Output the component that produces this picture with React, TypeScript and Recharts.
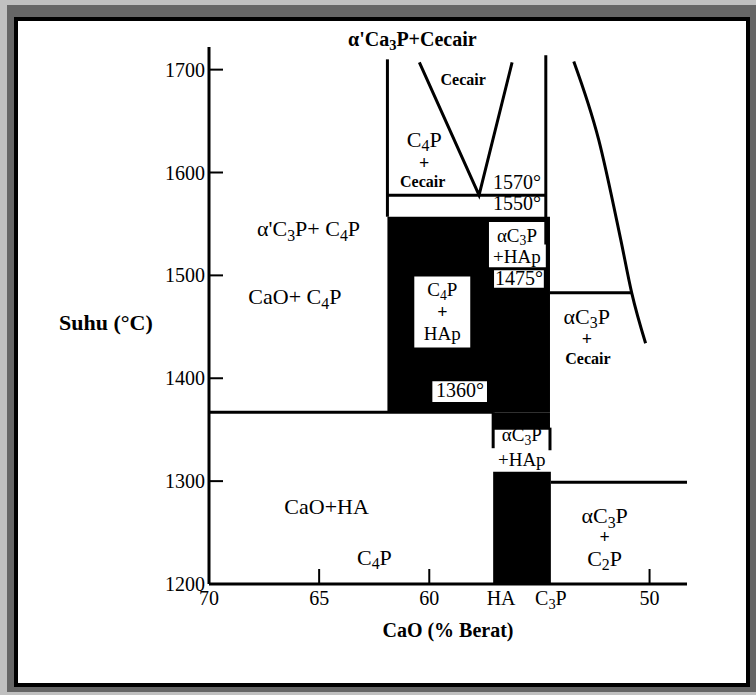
import { ComposedChart, Line, XAxis, YAxis, ReferenceArea, ReferenceDot } from "recharts";

const FONT = "'Liberation Serif', 'Times New Roman', serif";

// x = CaO (% berat), y = suhu (°C)
const leftWall = [{ x: 61.9, y: 1710 }, { x: 61.9, y: 1557 }];
const rightWall = [{ x: 54.71, y: 1714 }, { x: 54.71, y: 1530 }];
const liquidus = [{ x: 60.45, y: 1707 }, { x: 57.74, y: 1578 }, { x: 56.24, y: 1707 }];
const line1570 = [{ x: 61.9, y: 1578 }, { x: 54.71, y: 1578 }];
const c3pCurve = [
  { x: 53.44, y: 1708 },
  { x: 52.31, y: 1632 },
  { x: 51.31, y: 1535 },
  { x: 50.81, y: 1483 },
  { x: 50.18, y: 1434 },
];
const line1475 = [{ x: 54.52, y: 1483 }, { x: 50.81, y: 1483 }];
const line1360 = [{ x: 70, y: 1367 }, { x: 57.1, y: 1367 }];
const line1300 = [{ x: 54.48, y: 1299 }, { x: 48.3, y: 1299 }];
const haEdge = [{ x: 57.1, y: 1367 }, { x: 57.1, y: 1332 }];
const c3pEdge = [{ x: 54.52, y: 1352 }, { x: 54.52, y: 1330 }];

const straightLines = [leftWall, rightWall, liquidus, line1570, line1475, line1360, line1300, haEdge, c3pEdge];

// two-phase region C4P + HAp (black) and the white label boxes inside it
const blackBlocks = [
  { x1: 61.9, x2: 54.52, y1: 1367, y2: 1557 },
  { x1: 57.1, x2: 54.52, y1: 1350, y2: 1367 },
  { x1: 57.1, x2: 54.48, y1: 1200, y2: 1309 },
];
const whiteBoxes = [
  { x1: 57.29, x2: 54.71, y1: 1508, y2: 1552 },
  { x1: 57.06, x2: 54.8, y1: 1488, y2: 1505 },
  { x1: 60.68, x2: 58.14, y1: 1430, y2: 1499 },
  { x1: 59.86, x2: 57.38, y1: 1377, y2: 1397 },
];

const labels = [
  { text: "α'Ca_3P+Cecair", x: 60.77, y: 1729, kind: "title" },
  { text: "Cecair", x: 58.46, y: 1690, kind: "small" },
  { text: "C_4P", x: 60.23, y: 1632, kind: "region" },
  { text: "+", x: 60.23, y: 1609, kind: "plus" },
  { text: "Cecair", x: 60.3, y: 1591, kind: "small" },
  { text: "1570°", x: 56.02, y: 1590, kind: "temp" },
  { text: "1550°", x: 56.02, y: 1570, kind: "temp" },
  { text: "αC_3P", x: 56.02, y: 1539, kind: "boxed" },
  { text: "+HAp", x: 56.02, y: 1518, kind: "boxed" },
  { text: "1475°", x: 55.93, y: 1497, kind: "temp" },
  { text: "C_4P", x: 59.41, y: 1486, kind: "boxed" },
  { text: "+", x: 59.41, y: 1464, kind: "plus" },
  { text: "HAp", x: 59.41, y: 1443, kind: "boxed" },
  { text: "1360°", x: 58.6, y: 1388, kind: "temp" },
  { text: "αC_3P", x: 55.8, y: 1345, kind: "boxed" },
  { text: "+HAp", x: 55.8, y: 1321, kind: "boxed" },
  { text: "α'C_3P+ C_4P", x: 65.48, y: 1545, kind: "region" },
  { text: "CaO+ C_4P", x: 66.1, y: 1479, kind: "region" },
  { text: "αC_3P", x: 52.85, y: 1460, kind: "region" },
  { text: "+", x: 52.85, y: 1438, kind: "plus" },
  { text: "Cecair", x: 52.8, y: 1419, kind: "small" },
  { text: "CaO+HA", x: 64.66, y: 1275, kind: "region" },
  { text: "C_4P", x: 62.49, y: 1226, kind: "region" },
  { text: "αC_3P", x: 52.04, y: 1266, kind: "region" },
  { text: "+", x: 52.04, y: 1246, kind: "plus" },
  { text: "C_2P", x: 52.04, y: 1225, kind: "region" },
];

const xTicks = [70, 65, 60, 56.74, 54.48, 50];
const xTickNames: Record<string, string> = { "56.74": "HA", "54.48": "C_3P" };
const yTicks = [1200, 1300, 1400, 1500, 1600, 1700];

const styles: Record<string, { size: number; weight: string }> = {
  title: { size: 20, weight: "bold" },
  region: { size: 22, weight: "normal" },
  boxed: { size: 19, weight: "normal" },
  plus: { size: 18, weight: "bold" },
  small: { size: 16, weight: "bold" },
  temp: { size: 20, weight: "normal" },
};

const rich = (s: string, fs: number) => {
  const parts = s.split(/_(\d)/);
  const shift = fs * 0.2;
  let down = false;
  const out: any[] = [];
  parts.forEach((p, i) => {
    if (i % 2 === 1) {
      out.push(<tspan key={i} dy={shift} fontSize={fs * 0.72}>{p}</tspan>);
      down = true;
    } else if (p) {
      out.push(<tspan key={i} dy={down ? -shift : 0}>{p}</tspan>);
      down = false;
    }
  });
  return out;
};

const LabelText = ({ cx, cy, text, kind }: any) => {
  const st = styles[kind];
  return (
    <text x={cx} y={cy + st.size * 0.33} textAnchor="middle" fontFamily={FONT} fontSize={st.size} fontWeight={st.weight} fill="#000">
      {rich(text, st.size)}
    </text>
  );
};

const XTick = (props: any) => {
  const { x, y, payload } = props;
  const name = xTickNames[String(payload.value)];
  return (
    <g>
      {!name && <line x1={x} y1={y} x2={x} y2={y - 15} stroke="#000" strokeWidth={2} />}
      <text x={x} y={y + 21} textAnchor="middle" fontFamily={FONT} fontSize={20} fill="#000">
        {rich(name ?? String(payload.value), 20)}
      </text>
    </g>
  );
};

const YTick = (props: any) => {
  const { x, y, payload } = props;
  return (
    <g>
      <line x1={x} y1={y} x2={x + 14} y2={y} stroke="#000" strokeWidth={2} />
      <text x={x - 4} y={y + 7} textAnchor="end" fontFamily={FONT} fontSize={20} fill="#000">
        {payload.value}
      </text>
    </g>
  );
};

export default function App() {
  return (
    <div style={{ position: "absolute", left: 0, top: 0, width: 756, height: 695, background: "#c0c0c0" }}>
      <div style={{ position: "absolute", left: 7, top: 5, width: 749, height: 687, background: "#666" }} />
      <div
        style={{
          position: "absolute",
          left: 14,
          top: 17,
          width: 736,
          height: 670,
          boxSizing: "border-box",
          border: "4px solid #000",
          background: "#fff",
        }}
      />
      <div style={{ position: "absolute", left: 0, top: 0 }}>
        <ComposedChart width={756} height={695} margin={{ top: 47, right: 69, left: 59, bottom: 71 }}>
          <XAxis
            type="number"
            dataKey="x"
            domain={[48.3, 70]}
            reversed
            allowDataOverflow
            ticks={xTicks}
            interval={0}
            tickSize={0}
            tickMargin={0}
            tick={<XTick />}
            height={40}
            axisLine={{ stroke: "#000", strokeWidth: 3 }}
            label={{
              content: (p: any) => (
                <text
                  x={p.viewBox.x + p.viewBox.width / 2}
                  y={p.viewBox.y + 53}
                  textAnchor="middle"
                  fontFamily={FONT}
                  fontSize={20}
                  fontWeight="bold"
                  fill="#000"
                >
                  CaO (% Berat)
                </text>
              ),
            }}
          />
          <YAxis
            type="number"
            domain={[1200, 1722]}
            allowDataOverflow
            ticks={yTicks}
            interval={0}
            tickSize={0}
            tickMargin={0}
            tick={<YTick />}
            width={150}
            axisLine={{ stroke: "#000", strokeWidth: 3 }}
            label={{
              content: (p: any) => (
                <text
                  x={p.viewBox.x}
                  y={p.viewBox.y + p.viewBox.height / 2 + 14}
                  textAnchor="start"
                  fontFamily={FONT}
                  fontSize={22}
                  fontWeight="bold"
                  fill="#000"
                >
                  Suhu (°C)
                </text>
              ),
            }}
          />
          {blackBlocks.map((b, i) => (
            <ReferenceArea key={"b" + i} {...b} fill="#000" fillOpacity={1} stroke="none" ifOverflow="visible" />
          ))}
          {whiteBoxes.map((b, i) => (
            <ReferenceArea key={"w" + i} {...b} fill="#fff" fillOpacity={1} stroke="none" ifOverflow="visible" />
          ))}
          {straightLines.map((d, i) => (
            <Line
              key={"l" + i}
              data={d}
              dataKey="y"
              type="linear"
              stroke="#000"
              strokeWidth={3}
              dot={false}
              activeDot={false}
              legendType="none"
              isAnimationActive={false}
            />
          ))}
          <Line
            data={c3pCurve}
            dataKey="y"
            type="monotone"
            stroke="#000"
            strokeWidth={3}
            dot={false}
            activeDot={false}
            legendType="none"
            isAnimationActive={false}
          />
          {labels.map((l, i) => (
            <ReferenceDot
              key={"t" + i}
              x={l.x}
              y={l.y}
              r={1}
              ifOverflow="visible"
              shape={(p: any) => <LabelText cx={p.cx} cy={p.cy} text={l.text} kind={l.kind} />}
            />
          ))}
        </ComposedChart>
      </div>
    </div>
  );
}
